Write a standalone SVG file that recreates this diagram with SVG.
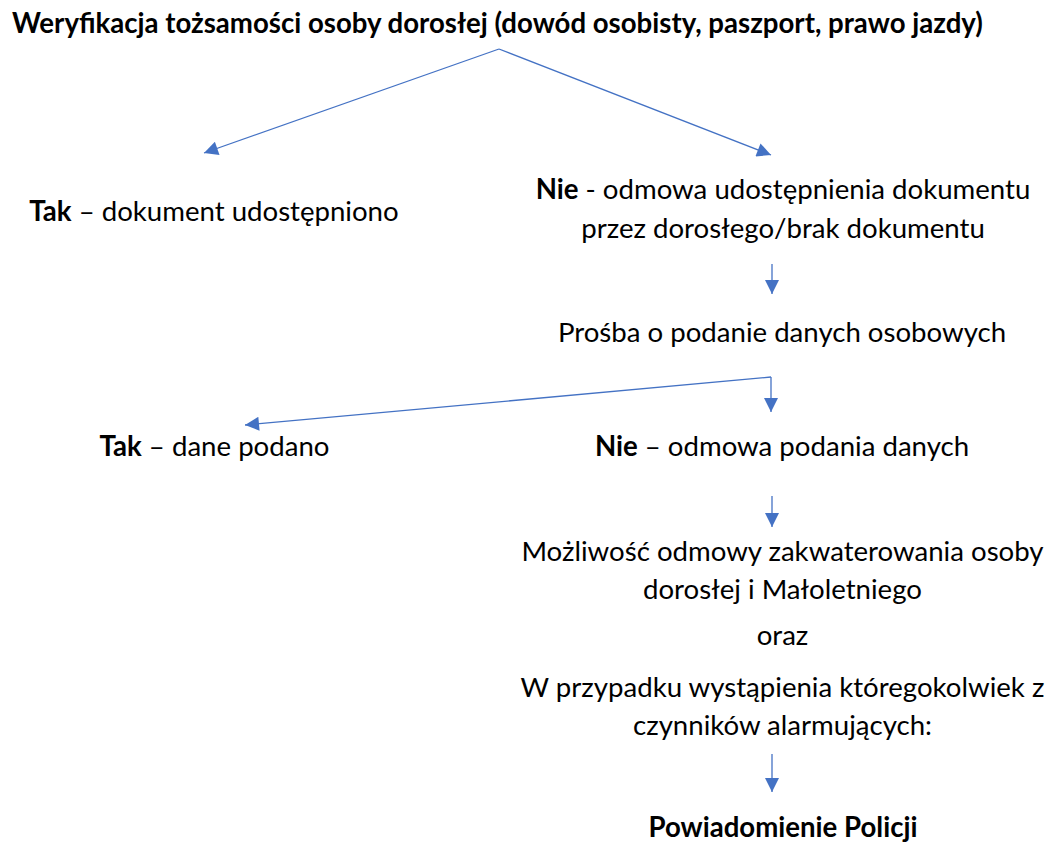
<svg xmlns="http://www.w3.org/2000/svg" width="1051" height="842" viewBox="0 0 1051 842">
<style>
text{font-family:Lato,"Liberation Sans",sans-serif;font-size:27.6px;fill:#000;text-anchor:middle}
.b{font-weight:bold}
.t{font-size:27.6px;font-weight:bold}
.c{stroke:#4472C4;stroke-width:1.3;fill:none}
</style>
<defs>
<marker id="ah" viewBox="0 0 10 10" refX="10" refY="5" markerWidth="15" markerHeight="14" markerUnits="userSpaceOnUse" orient="auto">
<path d="M0,0L10,5L0,10z" fill="#4472C4"/>
</marker>
</defs>
<rect width="1051" height="842" fill="#fff"/>
<g id="connectors">
<line class="c" x1="499" y1="49" x2="204" y2="153" marker-end="url(#ah)"/>
<line class="c" x1="499" y1="49" x2="771" y2="155" marker-end="url(#ah)"/>
<line class="c" x1="772" y1="264" x2="772" y2="294" marker-end="url(#ah)"/>
<line class="c" x1="771" y1="377" x2="771" y2="412" marker-end="url(#ah)"/>
<line class="c" x1="771" y1="377" x2="245" y2="425" marker-end="url(#ah)"/>
<line class="c" x1="772" y1="496" x2="772" y2="527" marker-end="url(#ah)"/>
<line class="c" x1="772" y1="754" x2="772" y2="792" marker-end="url(#ah)"/>
</g>
<g id="title"><text class="t" x="497.5" y="33">Weryfikacja tożsamości osoby dorosłej (dowód osobisty, paszport, prawo jazdy)</text></g>
<g id="yes1"><text x="214" y="221"><tspan class="b">Tak</tspan> – dokument udostępniono</text></g>
<g id="no1"><text x="783" y="199"><tspan class="b">Nie</tspan> - odmowa udostępnienia dokumentu</text><text x="783" y="238">przez dorosłego/brak dokumentu</text></g>
<g id="ask"><text x="782" y="342">Prośba o podanie danych osobowych</text></g>
<g id="yes2"><text x="214.5" y="456"><tspan class="b">Tak</tspan> – dane podano</text></g>
<g id="no2"><text x="782" y="456"><tspan class="b">Nie</tspan> – odmowa podania danych</text></g>
<g id="refuse"><text x="782.5" y="561">Możliwość odmowy zakwaterowania osoby</text><text x="782.5" y="599">dorosłej i Małoletniego</text><text x="782.5" y="645">oraz</text><text x="782.5" y="697">W przypadku wystąpienia któregokolwiek z</text><text x="782.5" y="735">czynników alarmujących:</text></g>
<g id="police"><text class="b" x="783" y="837">Powiadomienie Policji</text></g>
</svg>
